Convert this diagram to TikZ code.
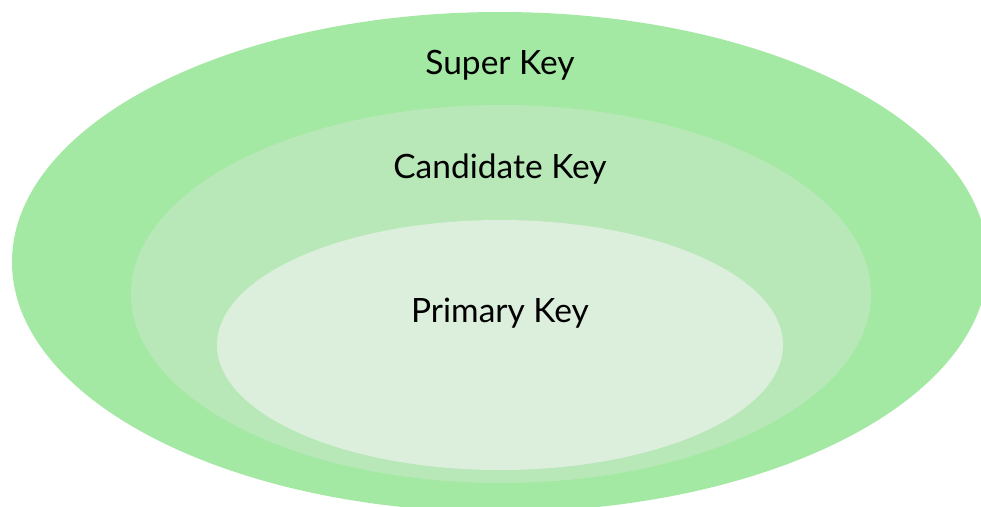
\documentclass[tikz,border=0pt]{standalone}
\usepackage{fontspec}
\setmainfont{Lato}
\definecolor{superkey}{HTML}{A3E8A3}
\definecolor{candkey}{HTML}{B8E8B8}
\definecolor{primkey}{HTML}{DCEEDC}
\begin{document}
\begin{tikzpicture}[x=1pt,y=-1pt]
\tikzset{label text/.style={font=\fontsize{33.5}{38}\selectfont, text=black}}
\useasboundingbox (0,0) rectangle (981,506);
\clip (0,0) rectangle (981,506);
\fill[superkey] (500,262) ellipse [x radius=488, y radius=250];
\fill[candkey] (501,294) ellipse [x radius=370, y radius=189];
\fill[primkey] (500,345) ellipse [x radius=283, y radius=125];
\node[label text] (super) at (500,65) {Super Key};
\node[label text] (cand) at (500,169) {Candidate Key};
\node[label text] (prim) at (500,313) {Primary Key};
\end{tikzpicture}
\end{document}
